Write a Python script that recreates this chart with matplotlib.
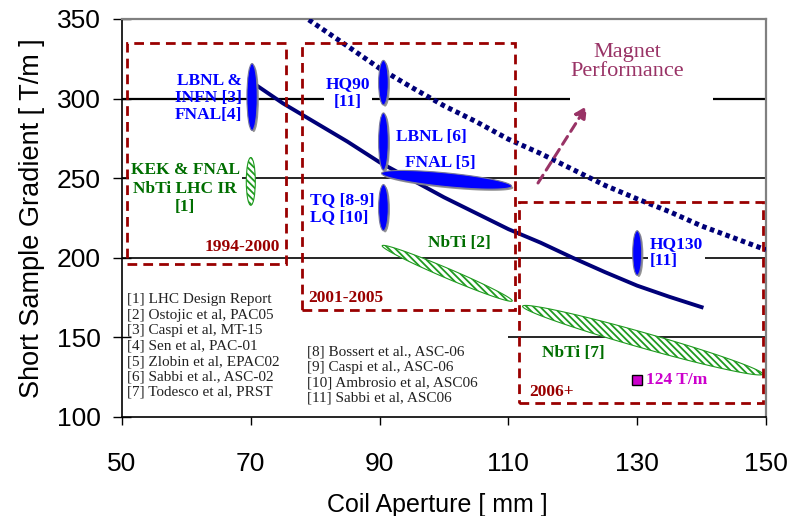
import numpy as np
import matplotlib
matplotlib.use("Agg")
from matplotlib import pyplot as plt
from matplotlib.patches import Ellipse, Polygon, Rectangle
from matplotlib import patheffects as pe

# Datos
solid_x = [71, 75, 80, 85, 90, 95, 100, 105, 110, 115, 120, 125, 130, 135, 140]
solid_y = [308, 297, 285, 273, 260, 249, 238, 228, 218, 209.5, 200, 191, 182.5, 175.5, 169]

dotted_x = [79, 85, 90, 95, 100, 105, 110, 115, 120, 125, 130, 135, 140, 145, 150]
dotted_y = [349.5, 333, 319, 307, 295.5, 285.5, 274.5, 265.5, 255.5, 245.5, 237, 229, 220, 212.5, 205]

# elipses verticales: x, y, ancho, alto
blue_x = [70.2, 90.6, 90.6, 90.6, 130.0]
blue_y = [301, 310, 273, 231.5, 203]
blue_w = [1.6, 1.5, 1.5, 1.5, 1.4]
blue_h = [42, 28, 36, 29, 28]

kek_x, kek_y, kek_w, kek_h = 70.0, 248, 1.4, 30

# bandas inclinadas: x1, y1, x2, y2, medio espesor
fnal5_band = (90.3, 253, 110.5, 245, 4.3)
nbti2_band = (90.4, 207.5, 110.6, 173, 3.3)
nbti7_band = (112.2, 169.5, 149.5, 127, 5.0)

square_x, square_y = [130], [123.5]

refs_left = ["[1] LHC Design Report", "[2] Ostojic et al, PAC05", "[3] Caspi et al, MT-15",
             "[4] Sen et al, PAC-01", "[5] Zlobin et al, EPAC02", "[6] Sabbi et al., ASC-02",
             "[7] Todesco et al, PRST"]
refs_right = ["[8] Bossert et al., ASC-06", "[9] Caspi et al., ASC-06",
              "[10] Ambrosio et al, ASC06", "[11] Sabbi et al, ASC06"]

# cajas punteadas: x0, y0, x1, y1
boxes = [(50.8, 196, 75.5, 335), (77.9, 167, 111.0, 335), (111.6, 108.5, 149.5, 235)]

xticks = [50, 70, 90, 110, 130, 150]
yticks = [100, 150, 200, 250, 300, 350]

SERIF = "Liberation Serif"
SANS = "Liberation Sans"
BLUE = "#0000ff"
GREEN_TXT = "#006e00"
GREEN = "#1f9a1f"
RED = "#990000"
NAVY = "#000078"
PLUM = "#993366"
HATCH = "\\" * 5


def band(ax, spec, **kw):
    x1, y1, x2, y2, half = spec
    t = np.linspace(0, 2 * np.pi, 200)
    cx, cy = (x1 + x2) / 2, (y1 + y2) / 2
    xs = cx + (x2 - x1) / 2 * np.cos(t)
    ys = cy + (y2 - y1) / 2 * np.cos(t) + half * np.sin(t)
    p = Polygon(np.column_stack([xs, ys]), closed=True, **kw)
    ax.add_patch(p)
    return p


shadow = [pe.SimplePatchShadow(offset=(1.2, -1.2), shadow_rgbFace="#888888", alpha=0.9), pe.Normal()]

plt.rcParams["hatch.linewidth"] = 1.3

fig = plt.figure(figsize=(7.91, 5.16), dpi=100)
ax = fig.add_axes([122 / 791, 1 - 417 / 516, (766 - 122) / 791, (417 - 19) / 516])
ax.set_xlim(50, 150)
ax.set_ylim(100, 350)

# lineas horizontales
ax.hlines([200, 250], 50, 150, color="black", lw=1.2, zorder=1)
ax.hlines(300, 50, 119.6, color="black", lw=1.6, zorder=1)
ax.hlines(300, 141.8, 150, color="black", lw=1.6, zorder=1)
ax.hlines(150, 110, 150, color="black", lw=1.2, zorder=1)

for x0, y0, x1, y1 in boxes:
    ax.add_patch(Rectangle((x0, y0), x1 - x0, y1 - y0, fill=False, edgecolor=RED,
                           lw=2.0, ls=(0, (3.5, 2.2)), zorder=6))

ax.plot(solid_x, solid_y, color=NAVY, lw=2.8, zorder=4)
ax.plot(dotted_x, dotted_y, color=NAVY, lw=3.6, ls=(0, (0.9, 0.75)), zorder=4)

for x, y, w, h in zip(blue_x, blue_y, blue_w, blue_h):
    e = Ellipse((x, y), w, h, facecolor=BLUE, edgecolor="#7a7a9a", lw=0.8, zorder=5)
    e.set_path_effects(shadow)
    ax.add_patch(e)

p = band(ax, fnal5_band, facecolor=BLUE, edgecolor="#7a7a9a", lw=0.8, zorder=5)
p.set_path_effects(shadow)

ax.add_patch(Ellipse((kek_x, kek_y), kek_w, kek_h, facecolor="white", edgecolor=GREEN,
                     hatch=HATCH, lw=0.8, zorder=5))
band(ax, nbti2_band, facecolor="white", edgecolor=GREEN, hatch=HATCH, lw=0.8, zorder=5)
band(ax, nbti7_band, facecolor="white", edgecolor=GREEN, hatch=HATCH, lw=0.8, zorder=5)

ax.plot(square_x, square_y, ls="none", marker="s", ms=6.5, mfc="#cc00cc", mec="black", mew=1, zorder=6)

# flecha "Magnet Performance"
ax.annotate("", xy=(122.2, 295.5), xytext=(114.6, 247),
            arrowprops=dict(arrowstyle="-|>,head_length=0.7,head_width=0.35", color=PLUM,
                            lw=2.2, ls=(0, (3, 2)), shrinkA=0, shrinkB=0), zorder=4)

bold = dict(family=SERIF, fontweight="bold", fontsize=12.5)
white_bg = dict(facecolor="white", edgecolor="none", pad=1.5)

ax.text(68.6, 300.5, "LBNL &\nINFN [3]\nFNAL[4]", color=BLUE, ha="right", va="center",
        linespacing=1.1, zorder=3, **bold)
ax.text(59.8, 243.5, "KEK & FNAL\nNbTi LHC IR\n[1]", color=GREEN_TXT, ha="center", va="center",
        linespacing=1.2, bbox=white_bg, zorder=3, **bold)
ax.text(85.1, 303.5, "HQ90\n[11]", color=BLUE, ha="center", va="center",
        linespacing=1.15, bbox=white_bg, zorder=3, **bold)
ax.text(92.5, 275.8, "LBNL [6]", color=BLUE, ha="left", va="center", zorder=3, **bold)
ax.text(94.0, 259.4, "FNAL [5]", color=BLUE, ha="left", va="center", zorder=3, **bold)
ax.text(79.2, 231, "TQ [8-9]\nLQ [10]", color=BLUE, ha="left", va="center",
        linespacing=1.1, zorder=3, **bold)
ax.text(97.5, 209, "NbTi [2]", color=GREEN_TXT, ha="left", va="center", zorder=3, **bold)
ax.text(132.0, 203.5, "HQ130\n[11]", color=BLUE, ha="left", va="center",
        linespacing=1.1, bbox=white_bg, zorder=3, **bold)
ax.text(115.2, 140, "NbTi [7]", color=GREEN_TXT, ha="left", va="center", zorder=3, **bold)
ax.text(131.4, 123.2, "124 T/m", color="#cc00cc", ha="left", va="center", zorder=3, **bold)

ax.text(74.6, 206.5, "1994-2000", color=RED, ha="right", va="center", zorder=3, **bold)
ax.text(78.9, 174.5, "2001-2005", color=RED, ha="left", va="center", zorder=3, **bold)
ax.text(113.2, 115.4, "2006+", color=RED, ha="left", va="center", zorder=3, **bold)

ax.text(128.4, 323, "Magnet\nPerformance", color=PLUM, ha="center", va="center",
        family=SERIF, fontsize=16, linespacing=1.05, zorder=3)

ax.text(50.8, 144.5, "\n".join(refs_left), color="#222222", ha="left", va="center",
        family=SERIF, fontsize=11, linespacing=1.24, zorder=3)
ax.text(78.7, 126.5, "\n".join(refs_right), color="#222222", ha="left", va="center",
        family=SERIF, fontsize=11, linespacing=1.24, zorder=3)

# ejes
ax.set_xticks(xticks)
ax.set_yticks(yticks)
ax.set_xticklabels([str(v) for v in xticks], family=SANS, fontsize=19)
ax.set_yticklabels([str(v) for v in yticks], family=SANS, fontsize=19)
ax.tick_params(axis="y", direction="inout", length=13, width=1, pad=9)
ax.tick_params(axis="x", direction="out", length=6, width=1, pad=19)
for side in ["left", "bottom"]:
    ax.spines[side].set_color("black")
    ax.spines[side].set_linewidth(1.2)
for side in ["top", "right"]:
    ax.spines[side].set_color("#808080")
    ax.spines[side].set_linewidth(1.6)

ax.set_xlabel("Coil Aperture [ mm ]", family=SANS, fontsize=18)
ax.set_ylabel("Short Sample Gradient [ T/m ]", family=SANS, fontsize=19.5)
ax.xaxis.set_label_coords(0.49, -0.19)
ax.yaxis.set_label_coords(-0.12, 0.5)

fig.savefig("out.png", dpi=100)
